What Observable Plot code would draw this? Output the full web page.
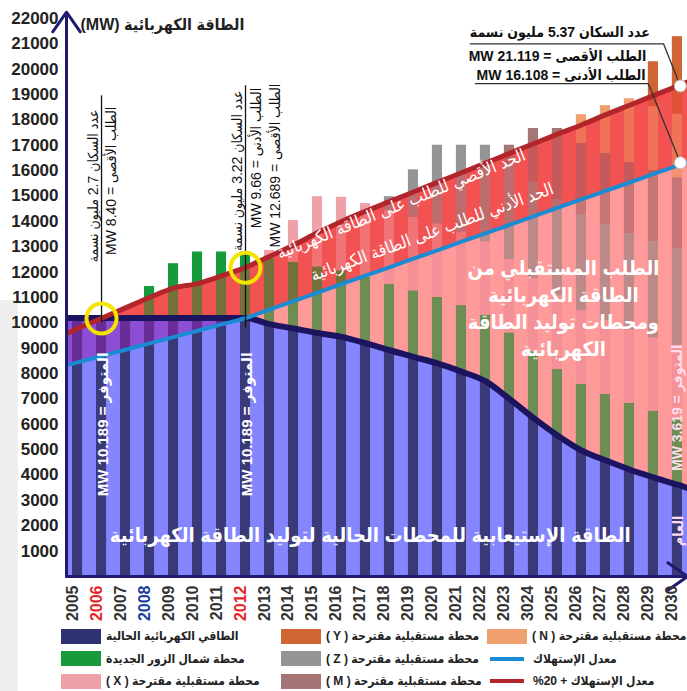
<!DOCTYPE html>
<html><head><meta charset="utf-8">
<script src="https://cdn.jsdelivr.net/npm/d3@7"></script>
<script src="https://cdn.jsdelivr.net/npm/@observablehq/plot@0.6"></script>
<style>
body{margin:0;background:#fff;font-family:"Liberation Sans","DejaVu Sans Condensed","DejaVu Sans",sans-serif;}
#wrap{position:relative;width:687px;height:691px;overflow:hidden;background:#fff;}
#edge{position:absolute;left:0;top:300px;width:18px;height:391px;background:#efefef;}
#chart{position:absolute;left:0;top:0;}
#legend{position:absolute;left:61px;top:625px;display:grid;grid-template-columns:220px 206px 220px;grid-auto-rows:22.5px;}
.lg{display:flex;align-items:center;font-weight:bold;font-size:12px;color:#222;white-space:nowrap;}
.sw{width:40px;height:15px;margin-right:5px;flex:none;}
.ln{width:34px;height:4px;margin:0 9px 0 3px;flex:none;}
</style></head><body><div id="wrap"><div id="edge"></div><div id="chart"></div><div id="legend"></div></div>
<script>
// ---------- data ----------
const years = [2005,2006,2007,2008,2009,2010,2011,2012,2013,2014,2015,2016,2017,2018,2019,2020,2021,2022,2023,2024,2025,2026,2027,2028,2029,2030];
const yearLabels = ["2005","2006","2007","2008","2009","2010","2011","2012","2013","2014","2015","2016","2017","2018","2019","2020","2021","2022","2023","3024","2025","2026","2027","2028","2029","2030"];
const yearLabelColors = ["#333","#e3262a","#333","#1a3f9f","#333","#333","#333","#e3262a","#333","#333","#333","#333","#333","#333","#333","#333","#333","#333","#333","#333","#333","#333","#333","#333","#333","#333"];
// stacked stations (MW), 2005..2030
const existingCap = [10189,10189,10189,10189,10189,10189,10189,10189,9950,9780,9600,9450,9200,8920,8660,8400,8080,7700,7000,6250,5560,4970,4580,4220,3910,3620];
const zourNorth   = [0,0,0,1240,2140,2600,2600,2600,2600,2600,2600,2600,2600,2600,2600,2600,2600,2600,2600,2600,2600,2600,2600,2600,2600,2600];
const stationX    = [0,0,0,0,0,0,0,0,300,1650,2770,2900,2900,2900,2900,2900,2900,2900,2900,2900,2900,2900,2900,2900,2900,2900];
const stationZ    = [0,0,0,0,0,0,0,0,0,0,0,0,0,550,1870,3100,3420,3800,3800,3800,3800,3800,3800,3800,3800,3800];
const stationM    = [0,0,0,0,0,0,0,0,0,0,0,0,0,0,0,0,0,0,700,2110,2800,2800,2800,2800,2800,2800];
const stationN    = [0,0,0,0,0,0,0,0,0,0,0,0,0,0,0,0,0,0,0,0,0,1130,1880,2510,2510,2510];
const stationY    = [0,0,0,0,0,0,0,0,0,0,0,0,0,0,0,0,0,0,0,0,0,0,0,0,1770,3050];
// curves (MW) 2004..2031 (ends run past the frame edges)
const lineYears = [2004,2005,2006,2007,2008,2009,2010,2011,2012,2013,2014,2015,2016,2017,2018,2019,2020,2021,2022,2023,2024,2025,2026,2027,2028,2029,2030,2031];
const existingLine = [10189,10189,10189,10189,10189,10189,10189,10189,10189,9950,9780,9600,9450,9200,8920,8660,8400,8080,7700,7000,6250,5560,4970,4580,4220,3910,3620,3300];
const minDemand = [8190,8440,8690,8940,9190,9440,9690,9940,10189,10520,10860,11190,11530,11860,12190,12530,12860,13200,13530,13860,14200,14530,14870,15200,15530,15870,16200,16530];
const maxDemand = [9340,9770,10180,10590,11000,11370,11550,11850,12190,12620,13060,13550,14000,14400,14780,15160,15540,15920,16300,16680,17060,17440,17800,18200,18580,18960,19340,19720];
const yTicks = [1000,2000,3000,4000,5000,6000,7000,8000,9000,10000,11000,12000,13000,14000,15000,16000,17000,18000,19000,20000,21000,22000];

const layers = [
  ["existing", existingCap, "#3b3a78"],
  ["zour", zourNorth, "#179a3c"],
  ["X", stationX, "#f0a0a8"],
  ["Z", stationZ, "#959595"],
  ["M", stationM, "#a57474"],
  ["N", stationN, "#f0a06e"],
  ["Y", stationY, "#cf6532"]
];
const legendItems = [
  ["sw","#2e3472","الطاقي الكهربائية الحالية"],
  ["sw","#cf6532","( Y ) محطة مستقبلية مقترحة"],
  ["sw","#f0a06e","( N ) محطة مستقبلية مقترحة"],
  ["sw","#179a3c","محطة شمال الزور الجديدة"],
  ["sw","#959595","( Z ) محطة مستقبلية مقترحة"],
  ["ln","#1b8bd3","معدل الإستهلاك"],
  ["sw","#f0a0a8","( X ) محطة مستقبلية مقترحة"],
  ["sw","#a57474","( M ) محطة مستقبلية مقترحة"],
  ["ln","#b2252b","%20 + معدل الإستهلاك"]
];

// ---------- derived tables ----------
const stackRows = [];
years.forEach((yr, i) => {
  let base = 0;
  for (const [name, arr, color] of layers) {
    const v = arr[i];
    if (v > 0) { stackRows.push({year: yr, name, color, y1: base, y2: base + v}); base += v; }
  }
});
const lineRows = lineYears.map((yr, i) => ({year: yr, e: existingLine[i], lo: minDemand[i], hi: maxDemand[i]}));
const tickRows = years.map((yr, i) => ({year: yr, label: yearLabels[i], color: yearLabelColors[i]}));

// annotations
const notes = [
  {text: "عدد السكان 2.7 مليون نسمة", year: 2005.62, value: 15400, rotate: -90, size: 14, fill: "#111", weight: "normal"},
  {text: "MW 8.40 = الطلب الأقصى", year: 2006.33, value: 15600, rotate: -90, size: 14, fill: "#111", weight: "normal"},
  {text: "عدد السكان 3.22 مليون نسمة", year: 2011.62, value: 16000, rotate: -90, size: 14, fill: "#111", weight: "normal"},
  {text: "MW 9.66 = الطلب الأدنى", year: 2012.38, value: 16500, rotate: -90, size: 14, fill: "#111", weight: "normal"},
  {text: "MW 12.689 = الطلب الأقصى", year: 2013.17, value: 16200, rotate: -90, size: 14, fill: "#111", weight: "normal"},
  {text: "MW 10.189 = المتوفر", year: 2006, value: 6000, rotate: -90, size: 15, fill: "#fff", weight: "bold"},
  {text: "MW 10.189 = المتوفر", year: 2012, value: 6000, rotate: -90, size: 15, fill: "#fff", weight: "bold"},
  {text: "MW 3.619 = المتوفر", year: 2029.93, value: 6650, rotate: -90, size: 14, fill: "#fde", weight: "bold"},
  {text: "العام", year: 2029.97, value: 1800, rotate: -90, size: 14, fill: "#fde", weight: "bold"},
  {text: "الحد الأقصي للطلب على الطاقة الكهربائية", year: 2018.46, value: 14750, rotate: -22, size: 17, fill: "#fff", weight: "normal"},
  {text: "الحد الأدني للطلب على الطاقة الكهربائية", year: 2019.75, value: 13650, rotate: -20, size: 17, fill: "#fff", weight: "normal"},
  {text: "الطلب المستقبلي من\nالطاقة الكهربائية\nومحطات توليد الطاقة\nالكهربائية", year: 2025.25, value: 10650, rotate: 0, size: 20, fill: "#fff", weight: "bold"},
  {text: "الطاقة الإستيعابية للمحطات الحالية لتوليد الطاقة الكهربائية", year: 2017.2, value: 1700, rotate: 0, size: 20, fill: "#fff", weight: "bold"},
  {text: "عدد السكان 5.37 مليون نسمة", year: 2025.1, value: 21500, rotate: 0, size: 14, fill: "#111", weight: "bold"},
  {text: "MW 21.119 = الطلب الأقصى", year: 2025.0, value: 20580, rotate: 0, size: 14, fill: "#111", weight: "bold"},
  {text: "MW 16.108 = الطلب الأدنى", year: 2025.15, value: 19820, rotate: 0, size: 14, fill: "#111", weight: "bold"}
];
const markerRules = [
  {year: 2006, from: 10000, to: 18950},
  {year: 2012, from: 9800, to: 19350}
];
const leaderPts = [
  {id: 1, year: 2021.37, value: 21000}, {id: 1, year: 2029.42, value: 21000}, {id: 1, year: 2030.12, value: 19340},
  {id: 2, year: 2021.58, value: 19430}, {id: 2, year: 2028.79, value: 19430}, {id: 2, year: 2030.12, value: 16310}
];
const yellowRings = [{year: 2006, value: 10170}, {year: 2012, value: 12170}];
const whiteDots = [{year: 2030.12, value: 19340}, {year: 2030.12, value: 16310}];

// ---------- chart ----------
const xDomain = [2004.54, 2030.42];
const curve = "monotone-x";
const navy = "#221a6e";
const halfBar = 0.21;

const chart = Plot.plot({
  width: 687, height: 628,
  marginLeft: 66, marginRight: 0, marginTop: 18, marginBottom: 52,
  x: {domain: xDomain, axis: null},
  y: {domain: [0, 22000], axis: null},
  color: {type: "identity"},
  style: {fontFamily: "'Liberation Sans','DejaVu Sans Condensed','DejaVu Sans',sans-serif", background: "transparent", overflow: "visible"},
  marks: [
    Plot.areaY(lineRows, {x: "year", y1: 0, y2: "e", fill: "#8585ff", curve, clip: true}),
    Plot.rect(stackRows, {x1: d => d.year - halfBar, x2: d => d.year + halfBar, y1: "y1", y2: "y2", fill: "color"}),
    Plot.areaY(lineRows, {x: "year", y1: "lo", y2: d => Math.max(d.lo, d.e), fill: "#9020b0", fillOpacity: 0.55, curve, clip: true}),
    Plot.areaY(lineRows, {x: "year", y1: "e", y2: d => Math.max(d.lo, d.e), fill: "#ff7878", fillOpacity: 0.75, curve, clip: true}),
    Plot.areaY(lineRows, {x: "year", y1: d => Math.max(d.lo, d.e), y2: d => Math.max(d.hi, d.lo, d.e), fill: "#f03a3a", fillOpacity: 0.88, curve, clip: true}),
    Plot.rect(stackRows.filter(d => d.name !== "existing"), {x1: d => d.year - halfBar, x2: d => d.year + halfBar, y1: "y1", y2: "y2", fill: "color", fillOpacity: 0.5}),
    Plot.line(lineRows, {x: "year", y: "e", stroke: "#1d145f", strokeWidth: 6, curve, clip: true}),
    Plot.line(lineRows, {x: "year", y: "lo", stroke: "#1b8bd3", strokeWidth: 4, curve, clip: true}),
    Plot.line(lineRows, {x: "year", y: "hi", stroke: "#b2252b", strokeWidth: 5, curve, clip: true}),
    // axes
    Plot.arrow([0], {x1: xDomain[0], x2: xDomain[0], y1: 0, y2: 22250, stroke: navy, strokeWidth: 3, headLength: 12, headAngle: 70}),
    Plot.arrow([0], {x1: xDomain[0], x2: xDomain[1], y1: 0, y2: 0, stroke: navy, strokeWidth: 3, headLength: 12, headAngle: 70}),
    Plot.text(yTicks, {frameAnchor: "left", y: d => d, text: d => String(d), dx: -8, textAnchor: "end", fontSize: 17, fontWeight: "bold", fill: "#222"}),
    Plot.text(tickRows, {frameAnchor: "bottom", x: "year", text: "label", fill: "color", rotate: -90, textAnchor: "end", dy: 9, fontSize: 16, fontWeight: "bold"}),
    Plot.text(["(MW) الطاقة الكهربائية"], {frameAnchor: "top-left", text: d => d, dx: 14, dy: 0, textAnchor: "start", fontSize: 16, fontWeight: "bold", fill: "#222"}),
    // annotations
    Plot.ruleX(markerRules, {x: "year", y1: "from", y2: "to", stroke: "#111", strokeWidth: 1.3}),
    Plot.line(leaderPts, {x: "year", y: "value", z: "id", stroke: "#333", strokeWidth: 1.3}),
    Plot.dot(yellowRings, {x: "year", y: "value", r: 15, stroke: "#f4e400", strokeWidth: 4, fill: "none"}),
    Plot.dot(whiteDots, {x: "year", y: "value", r: 6, stroke: "#bbb", strokeWidth: 1, fill: "#fff"}),
    ...notes.map(n => Plot.text([n], {x: "year", y: "value", text: "text", rotate: n.rotate, fontSize: n.size, fill: n.fill, fontWeight: n.weight, lineHeight: 1.35}))
  ]
});
document.getElementById("chart").appendChild(chart);

const lg = document.getElementById("legend");
for (const [kind, color, label] of legendItems) {
  const item = document.createElement("div");
  item.className = "lg";
  const sw = document.createElement("span");
  sw.className = kind;
  sw.style.background = color;
  const t = document.createElement("span");
  t.textContent = label;
  item.appendChild(sw); item.appendChild(t);
  lg.appendChild(item);
}
</script></body></html>
